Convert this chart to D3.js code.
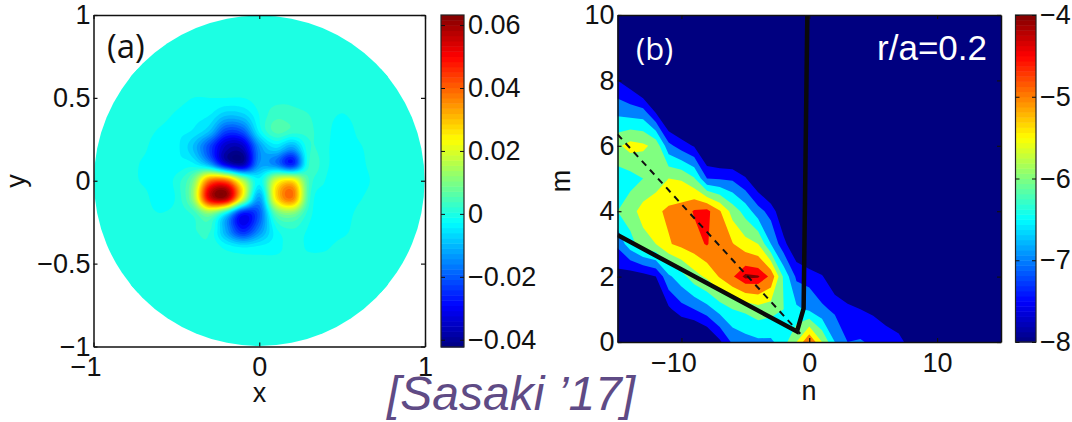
<!DOCTYPE html>
<html><head><meta charset="utf-8">
<script src="https://cdn.jsdelivr.net/npm/d3@7"></script>
<style>
html,body{margin:0;padding:0;background:#fff}
svg{display:block}
text{font-family:"Liberation Sans",Arial,sans-serif;fill:#111}
.tick text{font-size:27px}
.tick line,.domain{stroke:#111}
</style></head><body>
<svg id="c" width="1072" height="422"></svg>
<script>
// ---- panel (a): field values in thousandths, rows y=0.7..-0.7, columns x=-0.8..0.8
const fieldX = [-0.8,-0.7,-0.6,-0.5,-0.4,-0.3,-0.2,-0.1,0,0.1,0.2,0.3,0.4,0.5,0.6,0.7,0.8];
const fieldY = [0.7,0.6,0.5,0.4,0.3,0.2,0.1,0,-0.1,-0.2,-0.3,-0.4,-0.5,-0.6,-0.7];
const fieldValues = [
[0,0,0,0,0,0,0,0,0,0,0,0,0,0,0,0,0],
[0,0,0,0,0,0,0,0,0,0,0,0,0,0,0,0,0],
[0,0,0,0,-1.1,-1.1,-1.1,-1.1,0,0.5,1,0.5,0,0,0,0,0],
[0,0,0,-1.5,-3,-3.5,-8,-7,-1,3,2,1.5,0,-1.2,0,0,0],
[0,0,-1.5,-3,-4,-9,-22,-20,-3,5,3,2,0,-3,-0.5,0,0],
[0,-0.5,-3,-3,-9,-22,-36,-36,-14,-6,-12,1,-0.5,-3,-1.5,0,0],
[0,-1.5,-3,-3,-3,-12,-32,-38,-14,-16,-26,1.5,-0.5,-3,-2,0,0],
[0,-1.5,-3,0,9,38,40,16,-3,20,26,4,-1.2,-3,-2.5,-0.5,0],
[0,0,-3,-0.5,12,54,60,22,-12,26,38,3,-2.5,-3,-1.5,0,0],
[0,0,-1,0,2,10,-5,-28,-20,6,10,0,-3,-2.5,-0.5,0,0],
[0,0,0,0,1,2,-12,-26,-15,-2,1,-1.5,-3,-2,0,0,0],
[0,0,0,0,0,1,-2,-4,-3,-2,0,-1.5,-1.5,0,0,0,0],
[0,0,0,0,0,0,0,-0.5,-0.5,0,0,0,0,0,0,0,0],
[0,0,0,0,0,0,0,0,0,0,0,0,0,0,0,0,0],
[0,0,0,0,0,0,0,0,0,0,0,0,0,0,0,0,0]
];
const barTicksA = [-0.04,-0.02,0,0.02,0.04,0.06];
const barTickLabelsA = ["\u22120.04","\u22120.02","0","0.02","0.04","0.06"];
const axisTicksA = [-1,-0.5,0,0.5,1];
const axisLabelsA = ["\u22121","\u22120.5","0","0.5","1"];
const axisXTicksA = [-1,0,1];
const axisXLabelsA = ["\u22121","0","1"];

// ---- panel (b): log10 spectrum, rows m=0..10, columns n=-15..15
const specN = d3.range(-15,16);
const specM = d3.range(0,11);
const L = -8.5;
const specValues = [
/*m=0*/ [L,L,L,L,L,L,L,-8.2,-7.6,-6.9,-6.7,-6.6,-6.6,-6.2,-5.5,-4.5,-5.5,-6.5,-7,-6.95,-7.1,-7.2,-7.25,-7.85,L,L,L,L,L,L,L],
/*m=1*/ [L,L,L,-8.2,-7.6,-7.2,-7,-6.7,-6.3,-6,-5.9,-5.7,-5.8,-6,-6.4,-6.6,-6.9,-7.1,-7.3,-7.5,-7.6,-7.8,-8.2,L,L,L,L,L,L,L,L],
/*m=2*/ [-7.7,-7.8,-7.7,-7.5,-6.6,-6.2,-5.7,-5.4,-4.95,-4.55,-4.1,-4.15,-4.6,-6.1,-7.1,-7.2,-7.45,-8,L,L,L,L,L,L,L,L,L,L,L,L,L],
/*m=3*/ [-6.9,-6.2,-5.7,-5.5,-5.05,-4.85,-4.7,-4.45,-4.9,-4.97,-5.3,-5.5,-6.5,-7.35,-8,L,L,L,L,L,L,L,L,L,L,L,L,L,L,L,L],
/*m=4*/ [-6,-5.7,-5.3,-5.1,-4.9,-4.8,-4.45,-4.35,-4.95,-5.7,-6.2,-6.8,-7.2,-8,L,L,L,L,L,L,L,L,L,L,L,L,L,L,L,L,L],
/*m=5*/ [-6.25,-6.2,-6,-5.8,-5.5,-5.55,-5.95,-7,-7.05,-7.1,-7.45,-8,L,L,L,L,L,L,L,L,L,L,L,L,L,L,L,L,L,L,L],
/*m=6*/ [-5.6,-5.3,-5.4,-5.65,-6.85,-7.25,-7.55,-8.3,L,L,L,L,L,L,L,L,L,L,L,L,L,L,L,L,L,L,L,L,L,L,L],
/*m=7*/ [-6.6,-6.7,-6.75,-7.5,-8.3,L,L,L,L,L,L,L,L,L,L,L,L,L,L,L,L,L,L,L,L,L,L,L,L,L,L],
/*m=8*/ [-7.5,-7.8,-8.4,L,L,L,L,L,L,L,L,L,L,L,L,L,L,L,L,L,L,L,L,L,L,L,L,L,L,L,L],
/*m=9*/ d3.range(31).map(()=>L),
/*m=10*/ d3.range(31).map(()=>L)
];
const specLevels = [-9,-7.5,-7,-6.5,-6,-5.5,-5,-4.5,-4.2];
const specLevelColor = [-8,-7.5,-7,-6.5,-6,-5.5,-5,-4.5,-4];
const solidN = [-15,-0.96,-0.44,-0.15];
const solidM = [3.27,0.32,1.03,10];
const dashN = [-15,-0.7];
const dashM = [6.35,0.25];
const barTicksB = [-8,-7,-6,-5,-4];
const barTickLabelsB = ["\u22128","\u22127","\u22126","\u22125","\u22124"];
const axisXTicksB = [-10,0,10];
const axisXLabelsB = ["\u221210","0","10"];
const axisYTicksB = [0,2,4,6,8,10];
const citation = "[Sasaki \u201917]";

// ---- jet colormap
const jet = d3.scaleLinear().domain([0,.125,.375,.625,.875,1])
  .range(["#000080","#0000ff","#00ffff","#ffff00","#ff0000","#800000"]).clamp(true);

const svg = d3.select("#c");
const defs = svg.append("defs");

// ---- helpers
function boxAxes(g,x,y,xT,xL,yT,yL,padX,padY){
  const [x0,x1]=x.range(),[y0,y1]=y.range();
  const fmt=(ts,ls)=>d=>ls[ts.indexOf(d)];
  const bx=g.append("g").attr("transform",`translate(0,${y0})`)
    .call(d3.axisBottom(x).tickValues(xT).tickFormat(fmt(xT,xL)).tickSize(-4).tickSizeOuter(0).tickPadding(padX));
  // the minus sign hangs to the left of the centred digits
  bx.selectAll(".tick text").attr("dx",d=>d<0?"-8px":null);
  g.append("g").attr("transform",`translate(0,${y1})`)
    .call(d3.axisTop(x).tickValues(xT).tickFormat("").tickSize(-4).tickSizeOuter(0));
  g.append("g").attr("transform",`translate(${x0},0)`)
    .call(d3.axisLeft(y).tickValues(yT).tickFormat(fmt(yT,yL)).tickSize(-4).tickSizeOuter(0).tickPadding(padY));
  g.append("g").attr("transform",`translate(${x1},0)`)
    .call(d3.axisRight(y).tickValues(yT).tickFormat("").tickSize(-4).tickSizeOuter(0));
  g.selectAll(".domain").attr("stroke-width",1.5);
  g.selectAll(".tick line").attr("stroke-width",1.2);
}
function colorBar(x0,x1,scale,ticks,labels){
  const g=svg.append("g");
  const [lo,hi]=scale.domain();
  const steps=d3.range(64);
  const v=i=>lo+(hi-lo)*i/64;
  g.selectAll("rect").data(steps).join("rect")
    .attr("x",x0).attr("width",x1-x0)
    .attr("y",i=>scale(v(i+1))).attr("height",i=>scale(v(i))-scale(v(i+1))+0.5)
    .attr("fill",i=>jet((i+0.5)/64));
  g.append("rect").attr("x",x0).attr("y",scale(hi)).attr("width",x1-x0).attr("height",scale(lo)-scale(hi))
    .attr("fill","none").attr("stroke","#222").attr("stroke-width",1.2);
  const fmt=d=>labels[ticks.indexOf(d)];
  const a=g.append("g").attr("transform",`translate(${x1},0)`)
    .call(d3.axisRight(scale).tickValues(ticks).tickFormat(fmt).tickSize(-4).tickSizeOuter(0).tickPadding(4));
  a.select(".domain").remove();
  g.append("g").attr("transform",`translate(${x0},0)`)
    .call(d3.axisLeft(scale).tickValues(ticks).tickFormat("").tickSize(-4).tickSizeOuter(0))
    .select(".domain").remove();
}

// ---- panel (a)
const xA=d3.scaleLinear().domain([-1,1]).range([93.5,425]);
const yA=d3.scaleLinear().domain([-1,1]).range([346.5,15]);
const barA=d3.scaleLinear().domain([-0.0423,0.0632]).range([347,15]);
const colorA=v=>jet((v-barA.domain()[0])/(barA.domain()[1]-barA.domain()[0]));

// display resampling of the read grid (Catmull-Rom, like the original's smooth shading)
const cr=(a,b,c,d,t)=>0.5*(2*b+(c-a)*t+(2*a-5*b+4*c-d)*t*t+(3*b-a-3*c+d)*t*t*t);
const NR=fieldValues.length,NC=fieldValues[0].length,UP=8;
const w=(NC-1)*UP+1,h=(NR-1)*UP+1;
const at=(r,c)=>fieldValues[Math.max(0,Math.min(NR-1,r))][Math.max(0,Math.min(NC-1,c))]/1000;
const fine=new Float64Array(w*h);
for(let j=0;j<h;j++)for(let i=0;i<w;i++){
  const r=Math.min(NR-2,Math.floor(j/UP)),c=Math.min(NC-2,Math.floor(i/UP));
  const tr=j/UP-r,tc=i/UP-c;
  const row=k=>cr(at(r+k,c-1),at(r+k,c),at(r+k,c+1),at(r+k,c+2),tc);
  fine[j*w+i]=cr(row(-1),row(0),row(1),row(2),tr);
}
const stepA=0.0026;
const levelsA=d3.range(-0.0505,0.07,stepA);
const gxA=d3.scaleLinear().domain([0.5,w-0.5]).range([fieldX[0],fieldX[NC-1]]);
const gyA=d3.scaleLinear().domain([0.5,h-0.5]).range([fieldY[0],fieldY[NR-1]]);
const pathA=d3.geoPath(d3.geoTransform({point(a,b){this.stream.point(xA(gxA(a)),yA(gyA(b)));}}));
const contoursA=d3.contours().size([w,h]).thresholds(levelsA)(fine);
// the band that contains zero is the background of the disc
const zeroBand=levelsA.filter(l=>l<=0).pop()+stepA/2;

defs.append("clipPath").attr("id","circ").append("circle")
  .attr("cx",xA(0)).attr("cy",yA(0)).attr("r",165.3);
defs.append("clipPath").attr("id","inner").append("rect")
  .attr("x",xA(fieldX[0])+4).attr("y",yA(fieldY[0])+4)
  .attr("width",xA(fieldX[NC-1])-xA(fieldX[0])-8).attr("height",yA(fieldY[NR-1])-yA(fieldY[0])-8);
svg.append("rect").attr("x",93.5).attr("y",15).attr("width",331.5).attr("height",331.5).attr("fill","#fff");
const gA=svg.append("g").attr("clip-path","url(#circ)");
gA.append("rect").attr("x",93.5).attr("y",15).attr("width",331.5).attr("height",331.5).attr("fill",colorA(zeroBand));
gA.append("g").attr("clip-path","url(#inner)").append("g").style("filter","blur(0.7px)")
  .selectAll("path").data(contoursA).join("path")
  .attr("d",pathA).attr("fill",d=>colorA(d.value+stepA/2)).attr("stroke","none");
const axA=svg.append("g");
boxAxes(axA,xA,yA,axisXTicksA,axisXLabelsA,axisTicksA,axisLabelsA,10,3);
svg.append("text").attr("x",107).attr("y",58).style("font-family","'Open Sans',sans-serif").style("font-size","33px").text("(a)");
svg.append("text").attr("x",259.5).attr("y",402).attr("text-anchor","middle").style("font-size","27px").text("x");
svg.append("text").attr("transform","translate(25,181) rotate(-90)").attr("text-anchor","middle").style("font-size","27px").text("y");
colorBar(441,464,barA,barTicksA,barTickLabelsA);

// ---- panel (b)
const xB=d3.scaleLinear().domain([-15,15]).range([617.5,1001]);
const yB=d3.scaleLinear().domain([0,10]).range([342,15]);
const barB=d3.scaleLinear().domain([-8,-4]).range([342,15]);
const colorB=v=>jet((v+8)/4);
const flat=specValues.flat();
const contoursB=d3.contours().size([specN.length,specM.length]).thresholds(specLevels)(flat);
const gxB=d3.scaleLinear().domain([0.5,specN.length-0.5]).range([specN[0],specN[specN.length-1]]);
const gyB=d3.scaleLinear().domain([0.5,specM.length-0.5]).range([specM[0],specM[specM.length-1]]);
const pathB=d3.geoPath(d3.geoTransform({point(a,b){this.stream.point(xB(gxB(a)),yB(gyB(b)));}}));
defs.append("clipPath").attr("id","boxB").append("rect")
  .attr("x",617.5).attr("y",15).attr("width",383.5).attr("height",327);
const gB=svg.append("g").attr("clip-path","url(#boxB)");
gB.append("g").style("filter","blur(0.5px)").selectAll("path").data(contoursB).join("path")
  .attr("d",pathB).attr("fill",(d,i)=>colorB(specLevelColor[i])).attr("stroke","none");
const lineB=d3.line().x(i=>xB(i[0])).y(i=>yB(i[1]));
gB.append("path").attr("d",lineB(solidN.map((n,i)=>[n,solidM[i]])))
  .attr("fill","none").attr("stroke","#0a0a0a").attr("stroke-width",4.5).attr("stroke-linejoin","miter");
gB.append("path").attr("d",lineB(dashN.map((n,i)=>[n,dashM[i]])))
  .attr("fill","none").attr("stroke","#111").attr("stroke-width",2).attr("stroke-dasharray","6.5,5.5");
const axB=svg.append("g");
boxAxes(axB,xB,yB,axisXTicksB,axisXLabelsB,axisYTicksB,axisYTicksB.map(String),11,3);
svg.append("text").attr("x",636).attr("y",60).style("font-family","'Open Sans',sans-serif").style("font-size","31px").style("fill","#fff").text("(b)");
svg.append("text").attr("x",987).attr("y",60).attr("text-anchor","end").style("font-size","35px").style("fill","#fff").text("r/a=0.2");
svg.append("text").attr("x",809).attr("y",400).attr("text-anchor","middle").style("font-size","27px").text("n");
svg.append("text").attr("transform","translate(570,181) rotate(-90)").attr("text-anchor","middle").style("font-size","27px").text("m");
colorBar(1015.5,1036,barB,barTicksB,barTickLabelsB);

// ---- citation
svg.append("text").attr("x",387).attr("y",410).style("font-size","48px").style("font-style","italic").style("fill","#5f4b85").text(citation);
</script>
</body></html>
